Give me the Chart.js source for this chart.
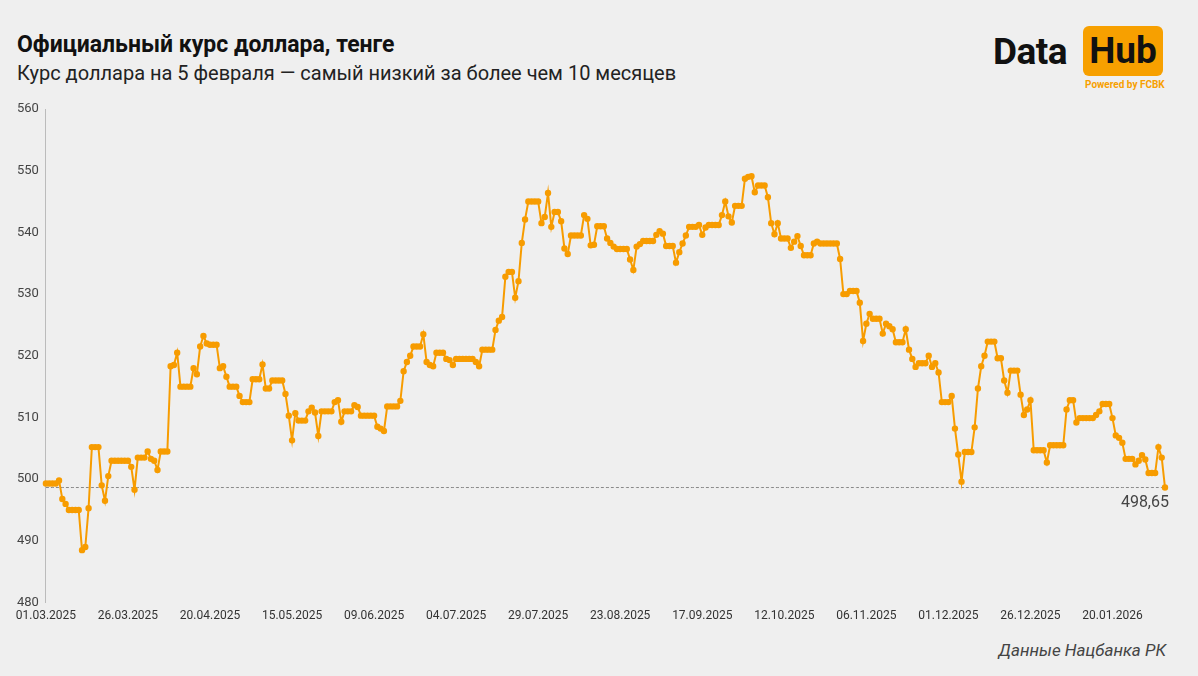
<!DOCTYPE html>
<html><head><meta charset="utf-8">
<script src="https://cdn.jsdelivr.net/npm/chart.js@4/dist/chart.umd.min.js"></script>
<style>
body{margin:0;width:1198px;height:676px;background:#efefef;font-family:Roboto,sans-serif;position:relative;overflow:hidden}
#t{position:absolute;left:17px;top:31px;font-size:23px;font-weight:700;color:#111}
#s{position:absolute;left:17px;top:61px;font-size:20px;color:#222}
#logo{position:absolute;left:993px;top:26px}
#logo .d{position:absolute;left:0;top:4px;font-size:37px;font-weight:700;color:#111;letter-spacing:-0.5px}
#logo .h{position:absolute;left:90px;top:0;width:80px;height:50px;background:#f7a000;border-radius:6px;font-size:37px;font-weight:700;color:#111;text-align:center;line-height:50px}
#logo .p{position:absolute;left:92px;top:53px;font-size:10px;font-weight:700;color:#f7a000;white-space:nowrap}
#f{position:absolute;right:32px;top:640px;font-size:17px;font-style:italic;color:#444}
#w{position:absolute;left:0;top:92px;width:1198px;height:537px}
</style></head><body>
<div id="t">Официальный курс доллара, тенге</div>
<div id="s">Курс доллара на 5 февраля — самый низкий за более чем 10 месяцев</div>
<div id="logo"><span class="d">Data</span><span class="h">Hub</span><span class="p">Powered by FCBK</span></div>
<div id="f">Данные Нацбанка РК</div>
<div id="w"><canvas id="c"></canvas></div>
<script>
const startDate = [2025, 2, 1];
const lastValue = 498.65;
const lastLabel = "498,65";
const yTicks = [480,490,500,510,520,530,540,550,560];
const rates = [
499.3,499.3,499.3,499.3,499.8,496.8,496,495,495,495,
495,488.5,489,495.3,505.2,505.2,505.2,499,496.5,500.5,
503,503,503,503,503,503,502,498.3,503.5,503.5,
503.5,504.5,503.3,503,501.5,504.5,504.5,504.5,518.3,518.5,
520.5,515,515,515,515,518,517,521.5,523.2,522,
521.8,521.8,521.8,518,518.3,516.6,515,515,515,513.5,
512.5,512.5,512.5,516.2,516.2,516.2,518.6,514.7,514.7,516,
516,516,516,513.8,510.3,506.3,510.7,509.5,509.5,509.5,
511,511.6,510.8,507,511,511,511,511,512.5,512.8,
509.3,511,511,511,512,511.7,510.3,510.3,510.3,510.3,
510.3,508.5,508.2,507.8,511.8,511.8,511.8,511.8,512.7,517.5,
519,520,521.5,521.5,521.5,523.5,519,518.5,518.3,520.5,
520.5,520.5,519.5,519.3,518.5,519.5,519.5,519.5,519.5,519.5,
519.5,519,518.3,521,521,521,521,524.2,525.7,526.3,
532.8,533.6,533.6,529.4,532.1,538.3,542.1,545,545,545,
545,541.5,542.5,546.4,540.9,543.3,543.3,541.8,537.4,536.5,
539.5,539.5,539.5,539.5,542.8,542.2,537.9,538,541,541,
541,539,538.3,537.7,537.3,537.3,537.3,537.3,535.6,533.9,
537.7,538.1,538.6,538.6,538.6,538.6,539.6,540.2,539.8,537.8,
537.8,537.8,535.1,536.8,538.2,539.5,540.9,540.9,540.9,541.2,
539.6,540.8,541.2,541.2,541.2,541.2,542.8,545,542.6,541.6,
544.3,544.3,544.3,548.7,549,549.1,546.5,547.6,547.6,547.6,
545.7,541.5,539.7,541.5,539,539,539,537.5,538.5,539.4,
537.8,536.3,536.3,536.3,538.2,538.5,538.2,538.2,538.2,538.2,
538.2,538.2,535.7,530,530,530.5,530.5,530.5,528.6,522.4,
525.2,526.8,526,526,526,523.6,525.2,524.8,524.3,522.2,
522.2,522.2,524.3,521,519.5,518.2,518.8,518.8,518.8,520,
518.2,518.8,517.3,512.5,512.5,512.5,513.5,508.2,504,499.6,
504.4,504.4,504.4,508.4,514.7,518.3,520,522.3,522.3,522.3,
519.6,519.6,516,514,517.6,517.6,517.6,513.7,510.4,511.3,
512.8,504.7,504.7,504.7,504.7,502.7,505.5,505.5,505.5,505.5,
505.5,511.3,512.8,512.8,509.2,509.9,509.9,509.9,509.9,509.9,
510.4,511,512.2,512.2,512.2,509.9,507.1,506.7,505.9,503.3,
503.3,503.3,502.4,503,503.9,503.2,501,501,501,505.2,
503.5,498.65
];
const labels = rates.map((_, i) => {
  const d = new Date(startDate[0], startDate[1], startDate[2] + i);
  return String(d.getDate()).padStart(2,'0') + '.' + String(d.getMonth()+1).padStart(2,'0') + '.' + d.getFullYear();
});
const refLine = rates.map(() => lastValue);
const labelPlugin = {
  id: 'lbl',
  afterDatasetsDraw(chart) {
    const {ctx, scales:{y}, chartArea} = chart;
    ctx.save();
    ctx.font = '16px Roboto';
    ctx.fillStyle = '#444';
    ctx.textAlign = 'right';
    ctx.textBaseline = 'top';
    ctx.fillText(lastLabel, chartArea.right + 4, y.getPixelForValue(lastValue) + 7);
    ctx.restore();
  }
};
new Chart(document.getElementById('c'), {
  type: 'line',
  data: { labels, datasets: [
    { data: rates, borderColor: '#f79c00', backgroundColor: '#f79c00', borderWidth: 2, pointRadius: 2.2, pointHoverRadius: 3, tension: 0 },
    { data: refLine, borderColor: '#888', borderWidth: 1, borderDash: [3,2], pointRadius: 0 }
  ]},
  options: {
    responsive: true, maintainAspectRatio: false, animation: false,
    layout: { padding: { left: 14, right: 33, top: 17, bottom: 0 } },
    plugins: { legend: { display: false }, tooltip: { enabled: false } },
    scales: {
      x: { grid: { display: false, drawTicks: false }, border: { display: false },
        ticks: { autoSkip: false, maxRotation: 0, color: '#333', font: { size: 12, family: 'Roboto' }, padding: 6,
          callback: (v, i) => (i % 25 === 0 && i < 330) ? labels[i] : null } },
      y: { min: 480, max: 560, afterBuildTicks: s => { s.ticks = yTicks.map(v => ({value: v})); },
        grid: { display: false, drawOnChartArea: false, drawTicks: true, tickLength: 4, tickColor: '#888' },
        border: { display: true, color: '#bbb' },
        ticks: { color: '#444', font: { size: 13, family: 'Roboto' }, padding: 3 } }
    }
  },
  plugins: [labelPlugin]
});
</script>
</body></html>
